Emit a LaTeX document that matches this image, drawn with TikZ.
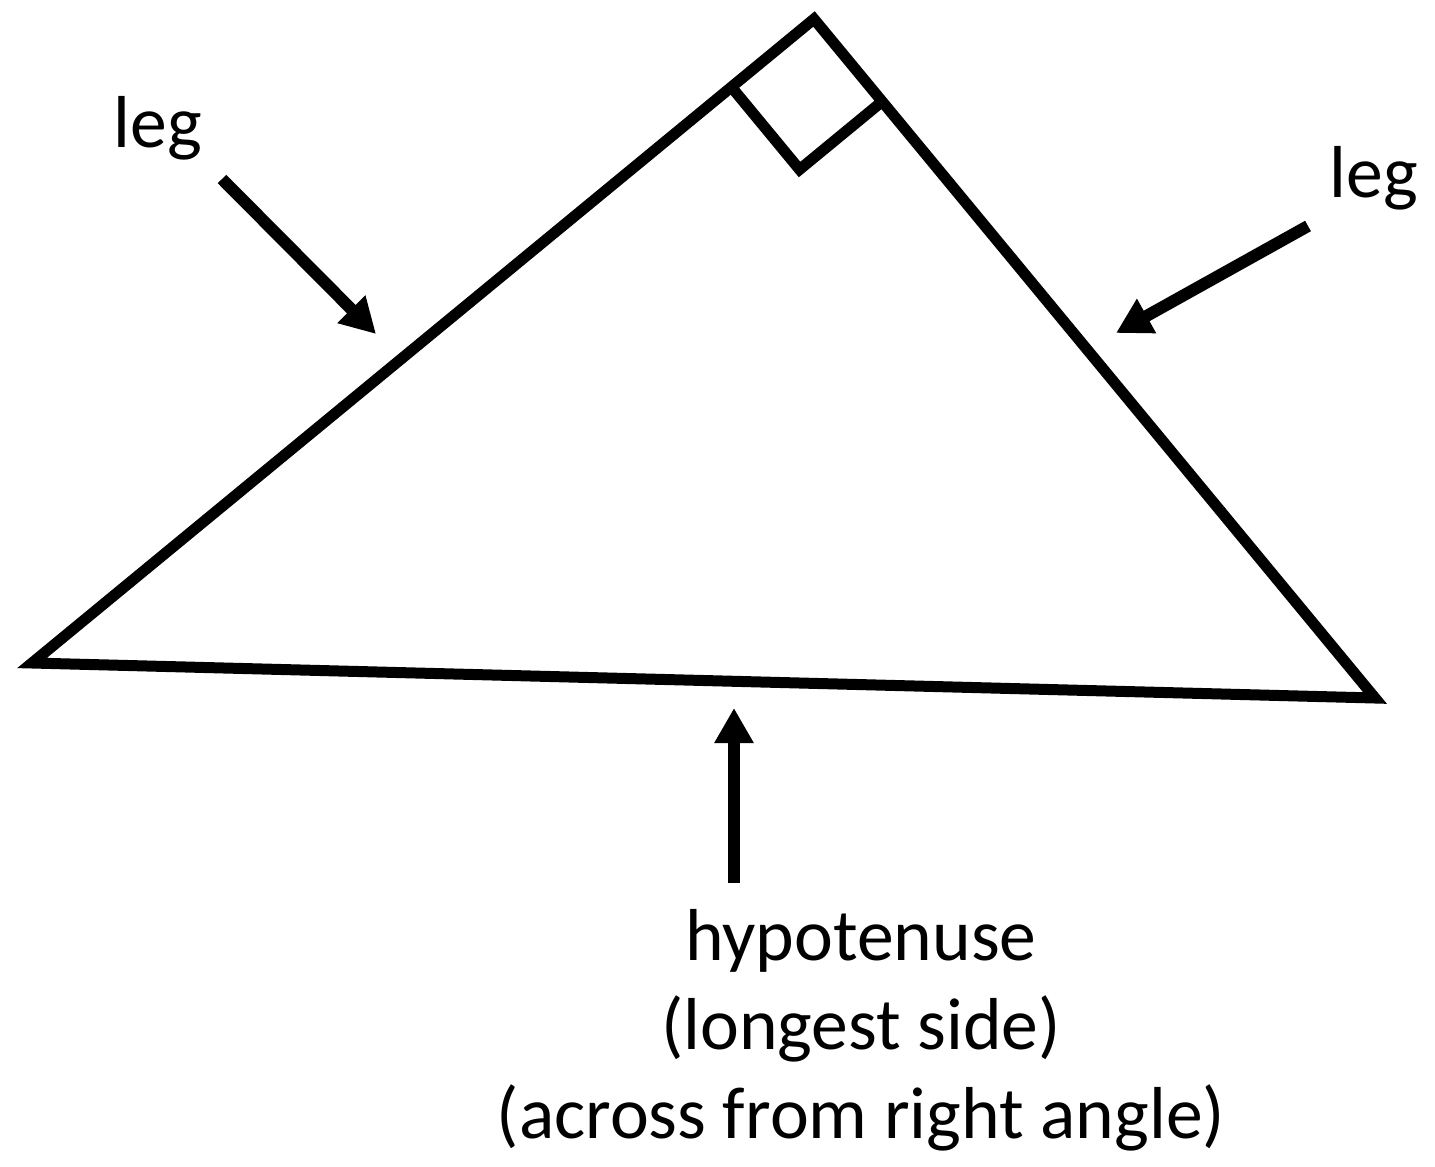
\documentclass[tikz,border=0pt]{standalone}
\usepackage{fontspec}
\setmainfont{Carlito}
\usepackage{xcolor}
\usepackage{tikz}
\usetikzlibrary{arrows.meta,calc}
\definecolor{cInk}{HTML}{000000}
\tikzset{
  side/.style={draw=cInk,line width=5.5pt,line join=miter},
  arr/.style={-{Triangle[length=17.5pt,width=18.5pt]},line width=6pt,color=cInk},
  lbl/.style={font=\fontsize{36.8}{44.5}\selectfont,text=cInk,inner sep=0pt,align=center},
}

\begin{document}
\begin{tikzpicture}[x=0.5pt,y=-0.5pt]
  \useasboundingbox (0,0) rectangle (1435,1167);
  \coordinate (lft) at (32,663);
  \coordinate (top) at (814,19);
  \coordinate (rgt) at (1375,698);
  \draw[side] (lft) -- (top) -- (rgt) -- cycle;
  % right angle mark
  \coordinate (sqA) at ($(top)!53.5pt!(lft)$);
  \coordinate (sqB) at ($(top)!53.5pt!(rgt)$);
  \coordinate (sqC) at ($(sqA)+(sqB)-(top)$);
  \draw[side] (sqA) -- (sqC) -- (sqB);
  \node[lbl,anchor=base] (legL) at (158,147) {leg};
  \node[lbl,anchor=base] (legR) at (1374,197) {leg};
  \node[lbl,anchor=base] (hyp) at (861,1138) {hypotenuse\\(longest side)\\(across from right angle)};
  \coordinate (legLfrom) at (222,179);
  \coordinate (legLto) at (376,334);
  \coordinate (legRfrom) at (1308,226);
  \coordinate (legRto) at (1116,333);
  \coordinate (hypfrom) at (734,883);
  \coordinate (hypto) at (734,708);
  \draw[arr] (legLfrom) -- (legLto);
  \draw[arr] (legRfrom) -- (legRto);
  \draw[arr] (hypfrom) -- (hypto);
\end{tikzpicture}
\end{document}
